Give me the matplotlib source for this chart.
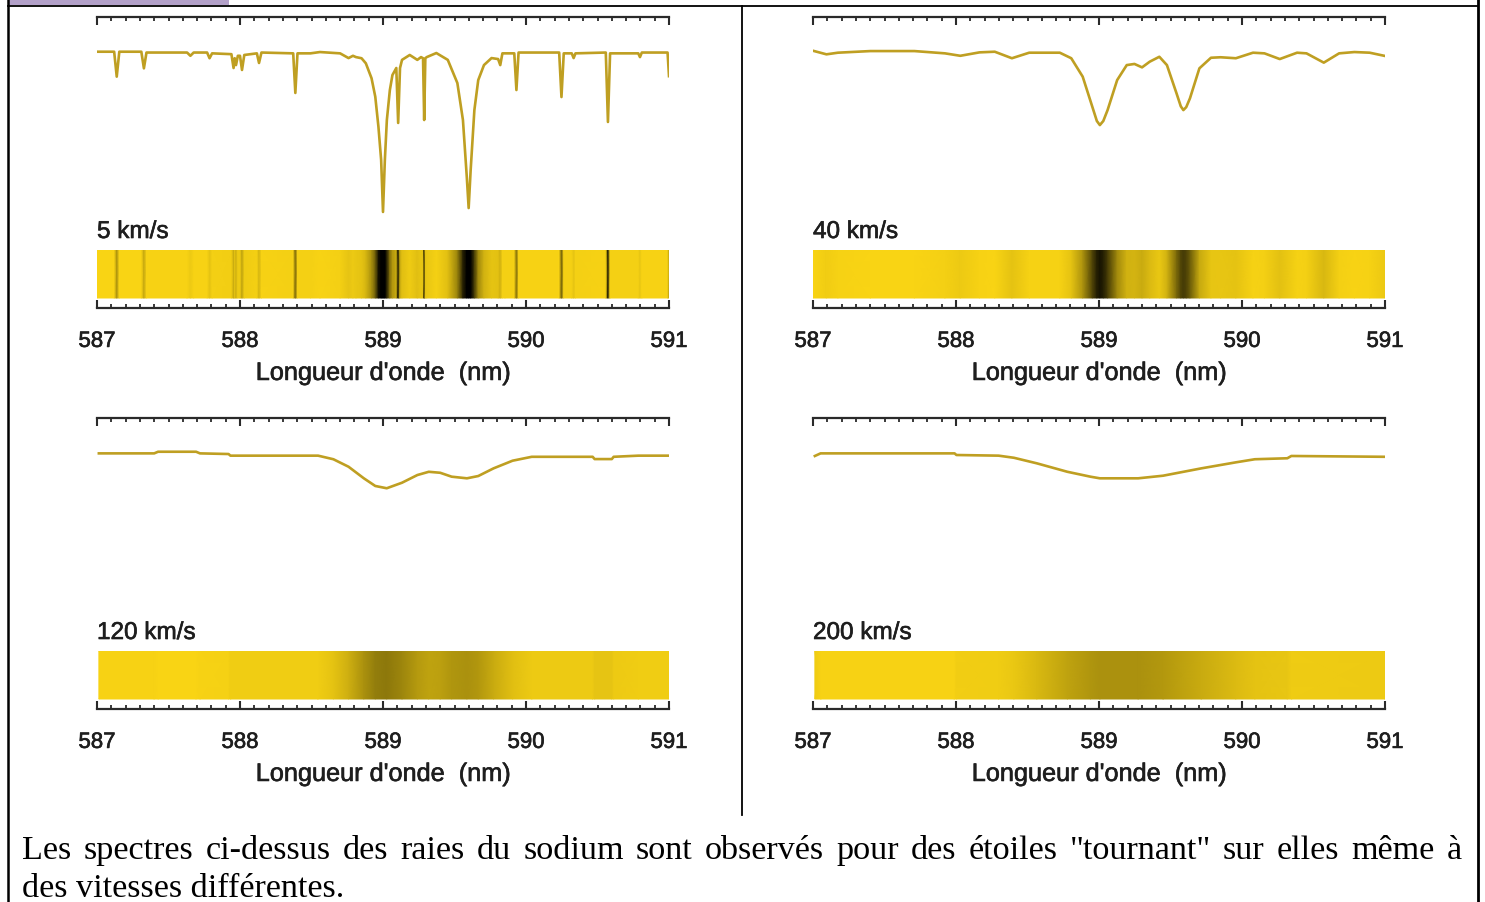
import numpy as np
import matplotlib
matplotlib.use("Agg")
import matplotlib.pyplot as plt
import matplotlib.patheffects as pe
from matplotlib.colors import LinearSegmentedColormap, Normalize
from matplotlib.ticker import MultipleLocator, FixedLocator
from matplotlib.patches import Rectangle

# ---------------- data (wavelength nm, normalised flux) ----------------
wl_5 = [587.000, 587.120, 587.138, 587.156, 587.310, 587.328, 587.346, 587.630, 587.653, 587.676,
        587.770, 587.787, 587.805, 587.940, 587.955, 587.963, 587.972, 587.985, 588.000, 588.014,
        588.030, 588.118, 588.133, 588.150, 588.372, 588.387, 588.402, 588.493, 588.559, 588.700,
        588.759, 588.790, 588.811, 588.850, 588.880, 588.920, 588.946, 588.968, 588.987, 589.000,
        589.013, 589.027, 589.048, 589.066, 589.093, 589.106, 589.119, 589.133, 589.187, 589.240,
        589.266, 589.280, 589.288, 589.296, 589.306, 589.373, 589.453, 589.520, 589.559, 589.586,
        589.599, 589.613, 589.639, 589.666, 589.706, 589.759, 589.805, 589.820, 589.835, 589.853,
        589.918, 589.933, 589.948, 590.232, 590.248, 590.264, 590.320, 590.333, 590.346, 590.558,
        590.573, 590.588, 590.785, 590.797, 590.810, 590.990, 591.000]
fl_5 = [1.000, 1.000, 0.847, 1.000, 1.000, 0.898, 0.995, 0.995, 0.975, 0.995,
        0.995, 0.960, 0.990, 0.985, 0.900, 0.960, 0.918, 0.975, 0.975, 0.888,
        0.980, 0.990, 0.931, 0.995, 0.990, 0.747, 0.990, 0.990, 0.998, 0.990,
        0.961, 0.975, 0.967, 0.960, 0.929, 0.837, 0.724, 0.540, 0.336, 0.017,
        0.336, 0.581, 0.765, 0.857, 0.900, 0.563, 0.900, 0.950, 0.980, 0.950,
        0.967, 0.960, 0.581, 0.960, 0.967, 0.992, 0.950, 0.808, 0.581, 0.231,
        0.041, 0.274, 0.642, 0.826, 0.918, 0.961, 0.955, 0.918, 0.990, 0.990,
        0.990, 0.765, 0.995, 0.995, 0.722, 0.990, 0.990, 0.961, 0.990, 0.995,
        0.569, 0.990, 0.990, 0.967, 0.995, 0.995, 0.850]

wl_40 = [587.000, 587.094, 587.174, 587.401, 587.709, 587.923, 588.030, 588.164, 588.271, 588.391,
         588.512, 588.726, 588.806, 588.886, 588.953, 588.985, 589.006, 589.030, 589.060, 589.127,
         589.194, 589.248, 589.301, 589.355, 589.422, 589.475, 589.542, 589.572, 589.590, 589.610,
         589.636, 589.702, 589.783, 589.850, 589.957, 590.077, 590.157, 590.264, 590.385, 590.451,
         590.572, 590.679, 590.786, 590.893, 591.000]
fl_40 = [1.006, 0.984, 0.994, 1.004, 1.004, 0.990, 0.975, 0.996, 1.000, 0.960,
         0.994, 0.994, 0.960, 0.847, 0.663, 0.575, 0.550, 0.575, 0.642, 0.826,
         0.918, 0.925, 0.904, 0.939, 0.969, 0.918, 0.745, 0.665, 0.642, 0.660,
         0.714, 0.898, 0.963, 0.966, 0.960, 0.994, 0.990, 0.955, 0.994, 0.990,
         0.933, 0.990, 0.998, 0.994, 0.974]

wl_120 = [587.013, 587.400, 587.427, 587.693, 587.720, 587.920, 587.933, 588.546, 588.653, 588.759,
          588.866, 588.946, 589.026, 589.133, 589.240, 589.320, 589.400, 589.480, 589.587, 589.666,
          589.773, 589.906, 590.040, 590.466, 590.480, 590.600, 590.613, 590.786, 591.000]
fl_120 = [0.996, 0.996, 1.006, 1.006, 0.996, 0.992, 0.982, 0.982, 0.960, 0.914,
          0.843, 0.796, 0.782, 0.816, 0.863, 0.883, 0.877, 0.853, 0.843, 0.857,
          0.904, 0.951, 0.975, 0.975, 0.961, 0.961, 0.975, 0.982, 0.982]

wl_200 = [587.013, 587.053, 587.990, 588.003, 588.298, 588.405, 588.565, 588.779, 588.940, 589.006,
          589.274, 589.448, 589.715, 589.957, 590.090, 590.317, 590.345, 591.000]
fl_200 = [0.980, 0.996, 0.996, 0.986, 0.982, 0.969, 0.935, 0.883, 0.853, 0.843,
          0.843, 0.859, 0.904, 0.941, 0.960, 0.966, 0.980, 0.975]

labels = ["5 km/s", "40 km/s", "120 km/s", "200 km/s"]
tick_values = [587, 588, 589, 590, 591]
tick_labels = ["587", "588", "589", "590", "591"]
xlabel = "Longueur d'onde  (nm)"
caption1 = 'Les spectres ci-dessus des raies du sodium sont observés pour des étoiles "tournant" sur elles même à'
caption2 = "des vitesses différentes."

# ---------------- styling ----------------
W, H = 1485, 902
LINE_C = "#BF9F22"
YEL = "#F9D414"
AX_C = "#2a2a2a"
TXT_C = "#1e1e1e"
cmap = LinearSegmentedColormap.from_list("sodium", ["#000000", YEL])
norm = Normalize(vmin=0.5, vmax=1.0, clip=True)
SANS = ["Liberation Sans", "DejaVu Sans"]
BOLDISH = [pe.withStroke(linewidth=0.45, foreground=TXT_C)]

fig = plt.figure(figsize=(W / 100, H / 100), dpi=100)


def box(x0, y0, x1, y1):
    return [x0 / W, 1 - y1 / H, (x1 - x0) / W, (y1 - y0) / H]


# overlay for table borders
ov = fig.add_axes([0, 0, 1, 1], zorder=-5)
ov.set_xlim(0, W)
ov.set_ylim(H, 0)
ov.axis("off")
ov.add_patch(Rectangle((8, 0), 221, 5, color="#B3A1C9", lw=0))
ov.plot([8, 1477], [6, 6], color="black", lw=1.3)
ov.plot([7.5, 7.5], [0, H], color="black", lw=1.8)
ov.plot([1477.5, 1477.5], [0, H], color="black", lw=2.0)
ov.plot([742, 742], [6, 815], color="black", lw=1.3)

panels = [(wl_5, fl_5, 97, 0), (wl_40, fl_40, 813, 0),
          (wl_120, fl_120, 97, 401), (wl_200, fl_200, 813, 401)]

for (wl, fl, x0, dy), lab in zip(panels, labels):
    wl = np.asarray(wl)
    fl = np.asarray(fl)
    # spectrum line
    ax = fig.add_axes(box(x0, 17 + dy, x0 + 572, 225 + dy))
    ax.plot(wl, fl, color=LINE_C, lw=1.9, solid_joinstyle="round")
    ax.set_xlim(587, 591)
    ax.set_ylim(-0.063, 1.213)
    for s in ["left", "right", "bottom"]:
        ax.spines[s].set_visible(False)
    ax.spines["top"].set_color(AX_C)
    ax.spines["top"].set_linewidth(1.6)
    ax.patch.set_alpha(0)
    ax.xaxis.tick_top()
    ax.xaxis.set_major_locator(FixedLocator(tick_values))
    ax.xaxis.set_minor_locator(MultipleLocator(0.1))
    ax.tick_params(axis="x", which="major", direction="in", length=6, width=1.5,
                   color=AX_C, labeltop=False, labelbottom=False)
    ax.tick_params(axis="x", which="minor", direction="in", length=3.2, width=1.3, color=AX_C)
    ax.set_yticks([])

    fig.text(x0 / W, 1 - (232 + dy) / H, lab, fontsize=17.5, family=SANS,
             color=TXT_C, ha="left", va="center", path_effects=BOLDISH)

    # colour strip + lower axis
    bx = fig.add_axes(box(x0, 250 + dy, x0 + 572, 308 + dy))
    X = np.vstack([wl, wl])
    Y = np.vstack([np.full_like(wl, 10 / 58), np.ones_like(wl)])
    C = np.vstack([fl, fl])
    bx.pcolormesh(X, Y, C, cmap=cmap, norm=norm, shading="gouraud")
    bx.set_xlim(587, 591)
    bx.set_ylim(0, 1)
    bx.patch.set_alpha(0)
    for s in ["left", "right", "top"]:
        bx.spines[s].set_visible(False)
    bx.spines["bottom"].set_color(AX_C)
    bx.spines["bottom"].set_linewidth(1.6)
    bx.set_yticks([])
    bx.set_xticks(tick_values)
    bx.set_xticklabels(tick_labels)
    bx.xaxis.set_minor_locator(MultipleLocator(0.1))
    bx.tick_params(axis="x", which="major", direction="in", length=6, width=1.5,
                   color=AX_C, pad=16.5, labelsize=16, labelcolor=TXT_C)
    bx.tick_params(axis="x", which="minor", direction="in", length=3.2, width=1.3, color=AX_C)
    for t in bx.get_xticklabels():
        t.set_family(SANS)
        t.set_path_effects(BOLDISH)
    bx.set_xlabel(xlabel, fontsize=18.2, family=SANS, color=TXT_C, labelpad=6.5,
                  path_effects=BOLDISH)

# caption, justified first line
SERIF = ["Liberation Serif", "DejaVu Serif"]
fs_cap = 24.6
renderer = fig.canvas.get_renderer()
words = caption1.split(" ")
texts = [fig.text(0, 1 - 859 / H, w, fontsize=fs_cap, family=SERIF, color="black",
                  ha="left", va="baseline") for w in words]
widths = [t.get_window_extent(renderer).width for t in texts]
x_left, x_right = 22, 1462
gap = (x_right - x_left - sum(widths)) / (len(words) - 1)
xc = x_left
for t, wdt in zip(texts, widths):
    t.set_x(xc / W)
    xc += wdt + gap
fig.text(x_left / W, 1 - 897 / H, caption2, fontsize=fs_cap, family=SERIF,
         color="black", ha="left", va="baseline")

fig.savefig("out.png", dpi=100, facecolor="white")
